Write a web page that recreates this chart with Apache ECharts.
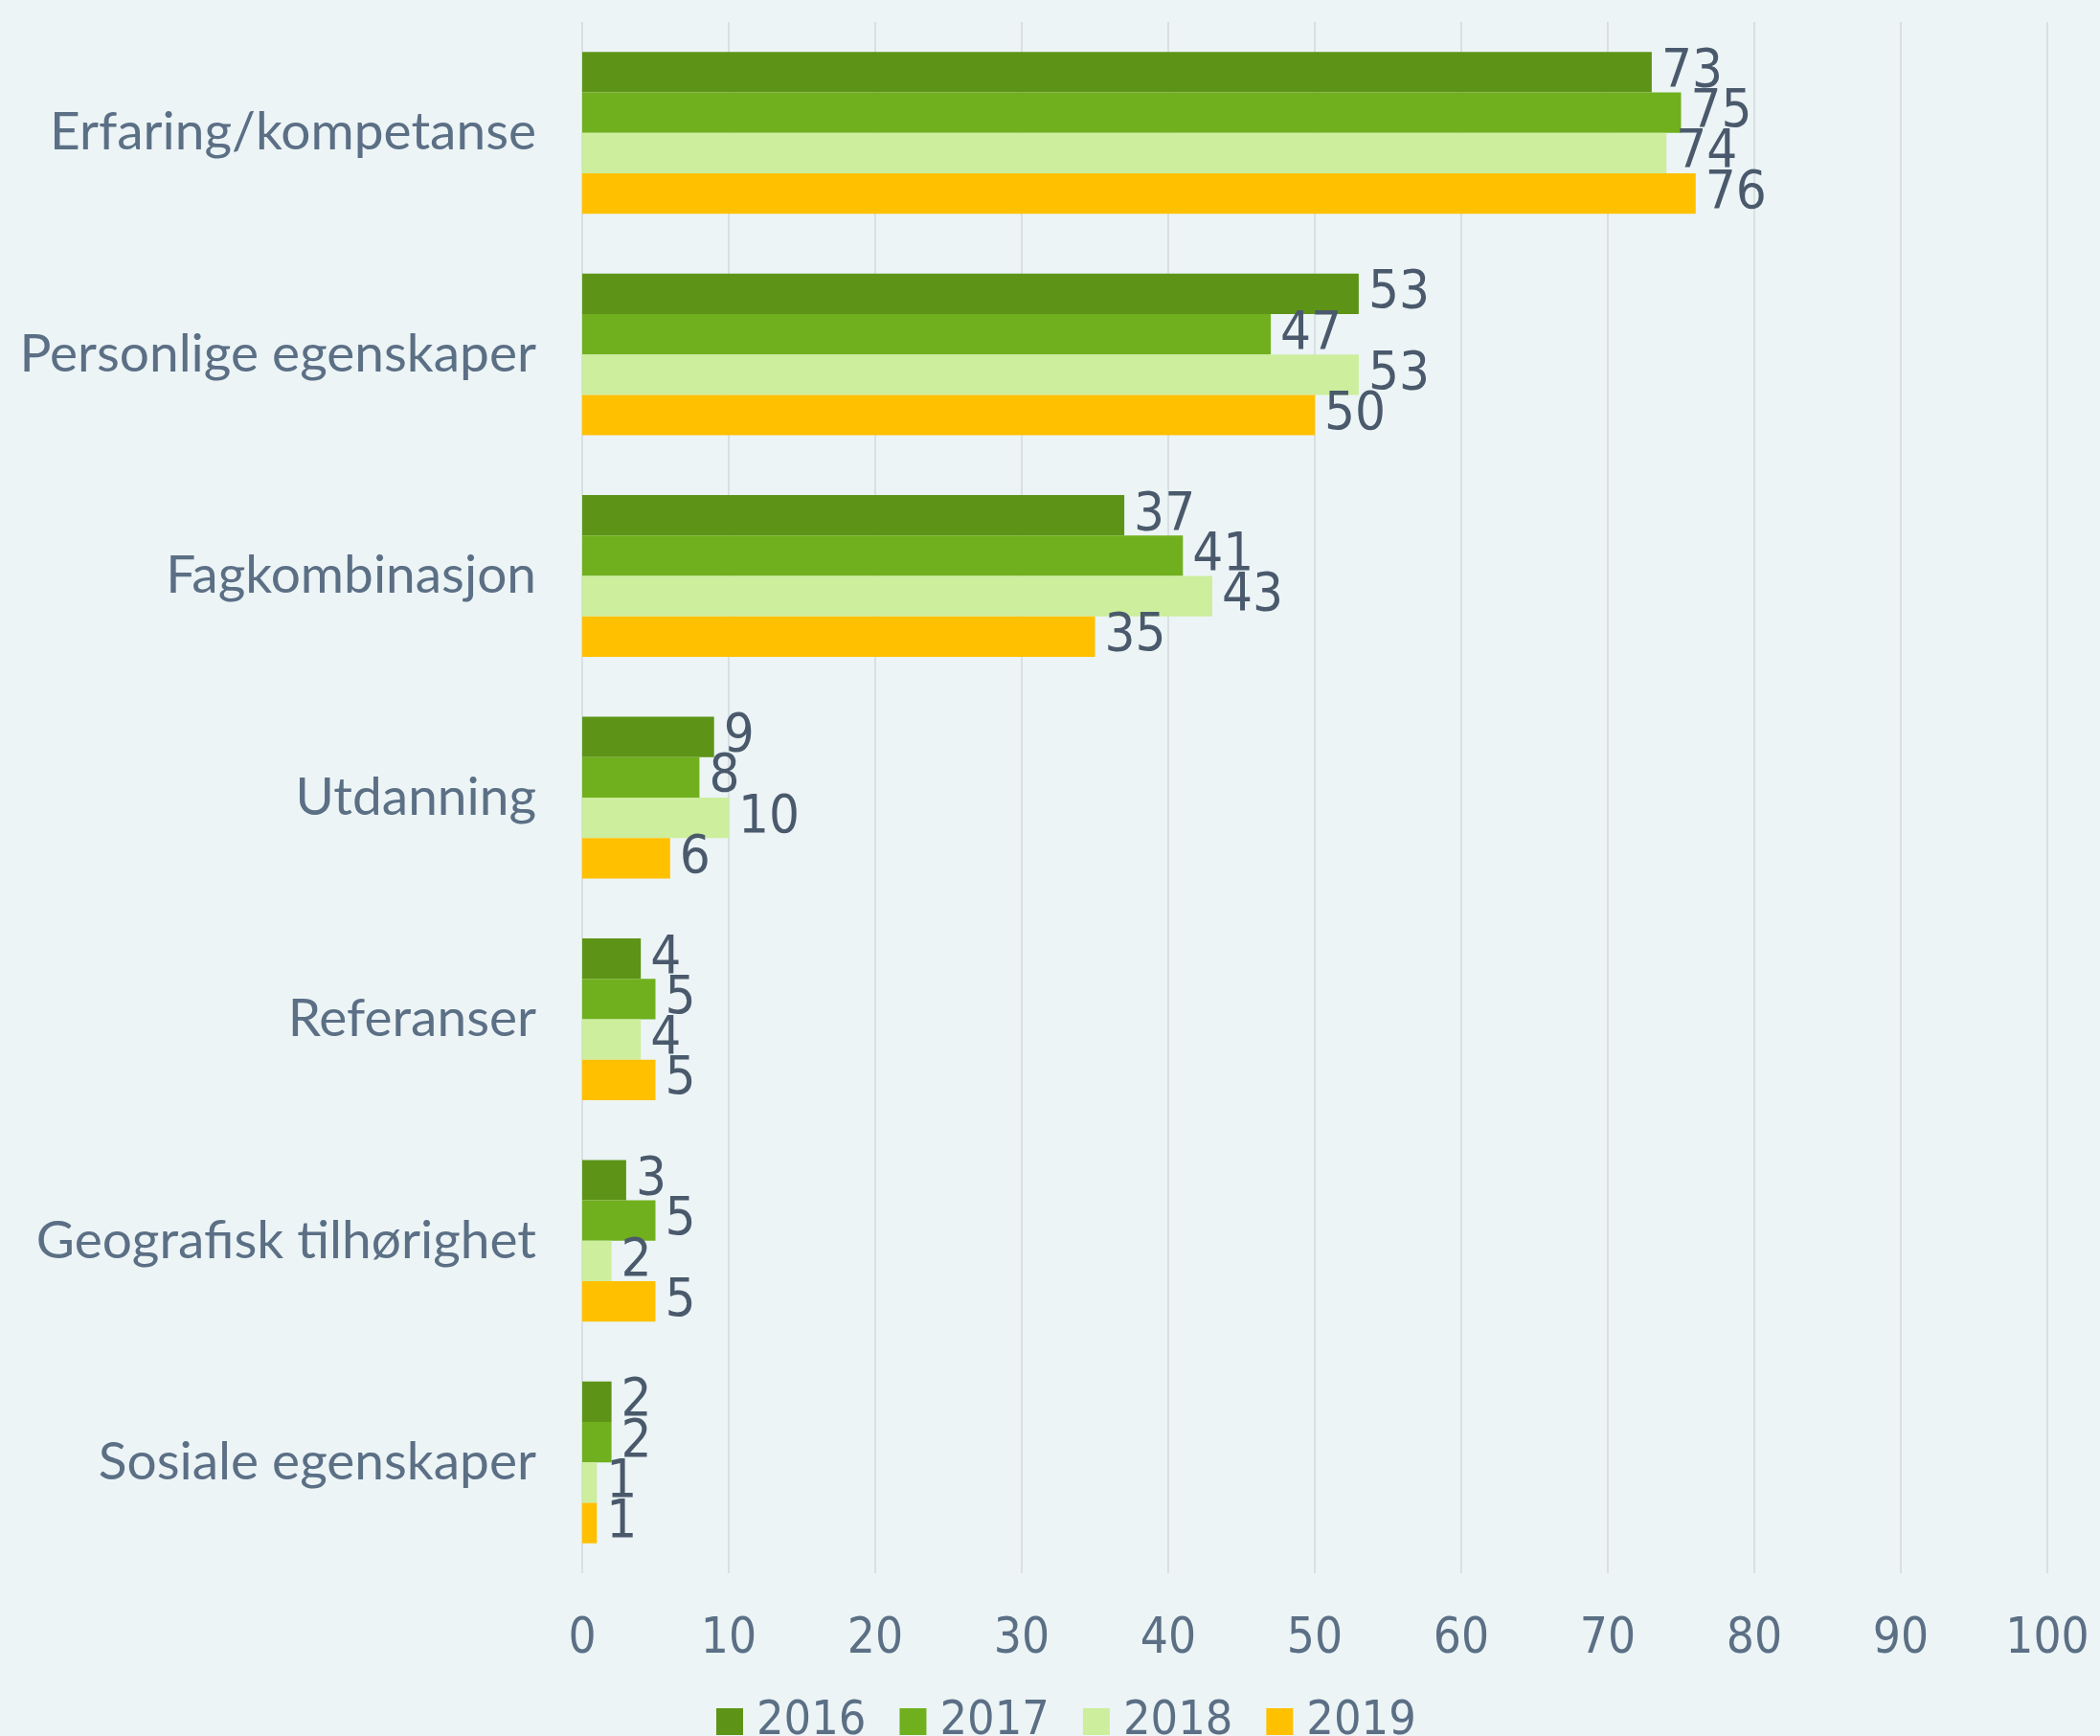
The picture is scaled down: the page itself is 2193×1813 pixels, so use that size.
<!DOCTYPE html>
<html>
<head>
<meta charset="utf-8">
<script src="https://cdn.jsdelivr.net/npm/echarts@6/dist/echarts.min.js"></script>
<style>
  html, body { margin: 0; padding: 0; background: #ECF4F6; }
  #chartView { width: 2193px; height: 1813px; }
</style>
</head>
<body>
<div id="chartView"></div>
<script>
// kategorier, ovenfra og ned
var categories = ['Erfaring/kompetanse', 'Personlige egenskaper', 'Fagkombinasjon', 'Utdanning', 'Referanser', 'Geografisk tilhørighet', 'Sosiale egenskaper'];
var years = ['2016', '2017', '2018', '2019'];
var values2016 = [73, 53, 37, 9, 4, 3, 2];
var values2017 = [75, 47, 41, 8, 5, 5, 2];
var values2018 = [74, 53, 43, 10, 4, 2, 1];
var values2019 = [76, 50, 35, 6, 5, 5, 1];
var colors = ['#5D9417', '#70B01E', '#CCEE9D', '#FFC000'];

var numFont = "'Liberation Sans Narrow', 'DejaVu Sans Condensed', 'Liberation Sans', sans-serif";
var textFont = "Lato, 'Liberation Sans', sans-serif";

var myChart = echarts.init(document.getElementById('chartView'));

function makeSeries(name, data, i) {
    return {
        name: name,
        type: 'bar',
        data: data,
        barGap: '0%',
        barCategoryGap: '27%',
        itemStyle: { color: colors[i] },
        label: {
            show: true,
            position: 'right',
            distance: 10,
            color: '#4A5A6C',
            fontSize: 56,
            fontFamily: numFont
        }
    };
}

var options = {
    backgroundColor: '#ECF4F6',
    animation: false,
    color: colors,
    grid: { left: 608, right: 55, top: 23, bottom: 170 },
    legend: {
        data: years,
        left: 743,
        top: 1768,
        itemWidth: 28,
        itemHeight: 28,
        itemGap: 35,
        icon: 'rect',
        textStyle: { color: '#5B6F85', fontSize: 50, fontFamily: numFont, padding: [0, 0, 0, 9] }
    },
    xAxis: {
        type: 'value',
        min: 0,
        max: 100,
        interval: 10,
        axisLine: { show: false },
        axisTick: { show: false },
        splitLine: { show: true, lineStyle: { color: '#D9DFE3', width: 2 } },
        axisLabel: { color: '#5B6F85', fontSize: 51, fontFamily: numFont, margin: 44 }
    },
    yAxis: {
        type: 'category',
        inverse: true,
        data: categories,
        axisLine: { show: false },
        axisTick: { show: false },
        axisLabel: { color: '#5B6F85', fontSize: 55, fontFamily: textFont, margin: 48 }
    },
    series: [
        makeSeries(years[0], values2016, 0),
        makeSeries(years[1], values2017, 1),
        makeSeries(years[2], values2018, 2),
        makeSeries(years[3], values2019, 3)
    ]
};
myChart.setOption(options);
</script>
</body>
</html>
